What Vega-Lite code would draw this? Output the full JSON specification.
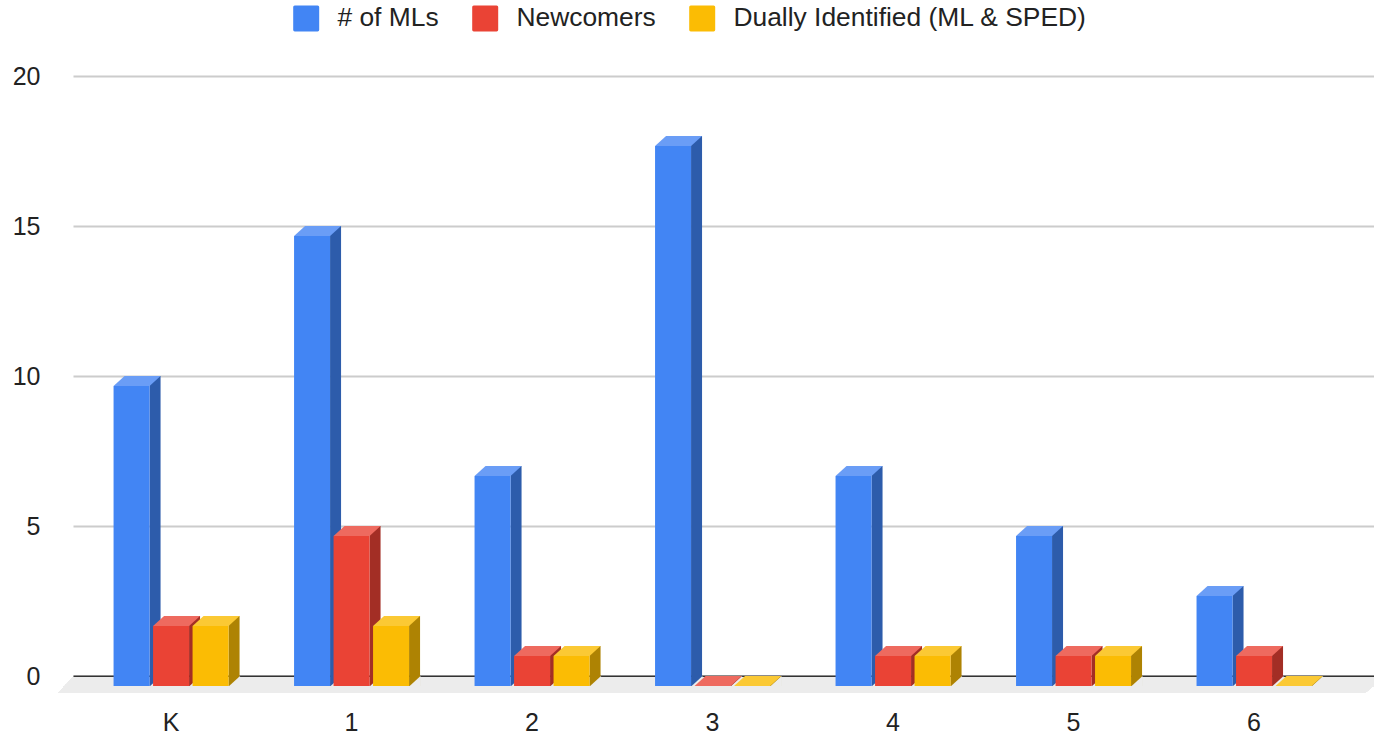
{
"$schema":"https://vega.github.io/schema/vega-lite/v6.json",
"width":1301,"height":600,
"autosize":{"type":"none"},
"padding":{"left":73,"top":76,"right":0,"bottom":59},
"background":"white",
"config":{"view":{"stroke":null},"font":"Liberation Sans"},
"data":{"values":[
{"grade":"K","series":"# of MLs","count":10},{"grade":"1","series":"# of MLs","count":15},{"grade":"2","series":"# of MLs","count":7},{"grade":"3","series":"# of MLs","count":18},{"grade":"4","series":"# of MLs","count":7},{"grade":"5","series":"# of MLs","count":5},{"grade":"6","series":"# of MLs","count":3},
{"grade":"K","series":"Newcomers","count":2},{"grade":"1","series":"Newcomers","count":5},{"grade":"2","series":"Newcomers","count":1},{"grade":"3","series":"Newcomers","count":0},{"grade":"4","series":"Newcomers","count":1},{"grade":"5","series":"Newcomers","count":1},{"grade":"6","series":"Newcomers","count":1},
{"grade":"K","series":"Dually Identified (ML & SPED)","count":2},{"grade":"1","series":"Dually Identified (ML & SPED)","count":2},{"grade":"2","series":"Dually Identified (ML & SPED)","count":1},{"grade":"3","series":"Dually Identified (ML & SPED)","count":0},{"grade":"4","series":"Dually Identified (ML & SPED)","count":1},{"grade":"5","series":"Dually Identified (ML & SPED)","count":1},{"grade":"6","series":"Dually Identified (ML & SPED)","count":0}
]},
"encoding":{
"x":{"field":"grade","type":"nominal","sort":["K","1","2","3","4","5","6"],"title":null,
 "scale":{"domain":["K","1","2","3","4","5","6"],"paddingInner":0.3435,"paddingOuter":0.2757,"align":0.39},
 "axis":{"labelAngle":0,"labelFontSize":25,"labelColor":"#222222","labelPadding":34,"ticks":false,"domainColor":"#333333","domainWidth":2,"grid":false}},
"xOffset":{"field":"series","type":"nominal","scale":{"domain":["# of MLs","Newcomers","Dually Identified (ML & SPED)"],"paddingInner":0,"paddingOuter":0}},
"y":{"field":"count","type":"quantitative","stack":null,"title":null,
 "scale":{"domain":[0,20],"nice":false},
 "axis":{"values":[0,5,10,15,20],"labelFontSize":25,"labelColor":"#222222","labelPadding":33,"ticks":false,"domain":false,"grid":true,"gridColor":"#cccccc","gridWidth":2}}
},
"layer":[
{"mark":{"type":"point","filled":true,"strokeWidth":0,"opacity":1,"size":4,"shape":"M -98 1 L 1213 1 L 1194 17 L -113 17 Z","color":"#ececec"},
 "encoding":{"x":{"datum":"K"},"xOffset":null,"y":{"datum":0}}},
{"transform":[{"filter":"datum.series === '# of MLs'"}],"mark":{"type":"bar","width":11,"xOffset":-16,"y2Offset":10,"color":"#2d5cab"},
 "encoding":{"xOffset":null,"y2":{"datum":0}}},
{"transform":[{"filter":"datum.series === 'Newcomers'"}],"mark":{"type":"bar","width":11,"xOffset":23.5,"y2Offset":10,"color":"#a32e25"},
 "encoding":{"xOffset":null,"y2":{"datum":0}}},
{"transform":[{"filter":"datum.series === 'Dually Identified (ML & SPED)'"}],"mark":{"type":"bar","width":11,"xOffset":63,"y2Offset":10,"color":"#ae8303"},
 "encoding":{"xOffset":null,"y2":{"datum":0}}},
{"mark":{"type":"point","filled":true,"strokeWidth":0,"opacity":1,"size":4,"shape":"M 18 10.5 L 29.5 10.5 L 29.5 0 Z","color":"#ececec"},
 "encoding":{"y":{"datum":0}}},
{"mark":{"type":"bar","width":36,"yOffset":10,"y2Offset":10},
 "encoding":{"y2":{"datum":0},"color":{"field":"series","type":"nominal","scale":{"domain":["# of MLs","Newcomers","Dually Identified (ML & SPED)"],"range":["#4285f4","#ea4335","#fbbc04"]},
  "legend":{"title":null,"orient":"none","legendX":220,"legendY":-71,"direction":"horizontal","labelFontSize":26.4,"labelColor":"#222222","labelLimit":600,"labelOffset":18,"columnPadding":33,"symbolSize":676,"symbolOpacity":1,"symbolStrokeWidth":0,
   "symbolType":"M -0.88 -1 H 0.88 Q 1 -1 1 -0.88 V 0.88 Q 1 1 0.88 1 H -0.88 Q -1 1 -1 0.88 V -0.88 Q -1 -1 -0.88 -1 Z"}}}},
{"mark":{"type":"point","filled":true,"strokeWidth":0,"opacity":1,"size":4,"shape":"M -18 10 L 18 10 L 29 0 L -7 0 Z"},
 "encoding":{"color":{"field":"series","type":"nominal","legend":null,"scale":{"domain":["# of MLs","Newcomers","Dually Identified (ML & SPED)"],"range":["#6a9df6","#ee6a5f","#fbc934"]}}}}
],
"resolve":{"scale":{"color":"independent"}}
}
